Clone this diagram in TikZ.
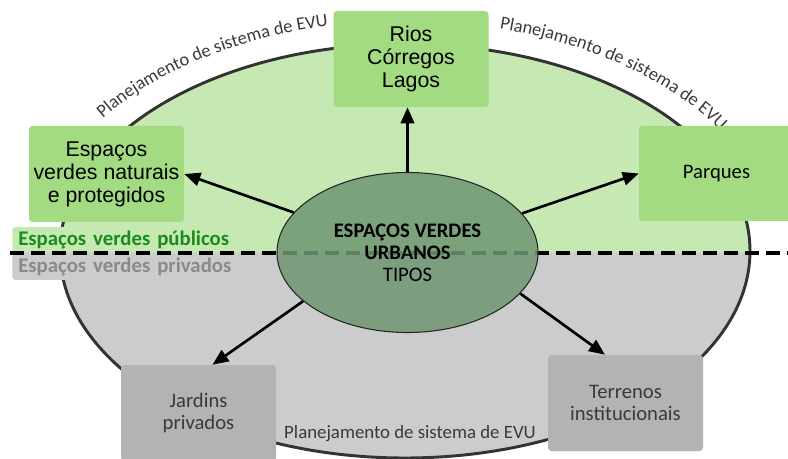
\documentclass[tikz,border=0pt]{standalone}
\usepackage{fontspec}
\setmainfont{Carlito}
\newfontfamily\arialf{Liberation Sans}
\usetikzlibrary{shapes.geometric,arrows.meta,decorations.text}
\definecolor{lgreen}{HTML}{C6E9B4}
\definecolor{boxgreen}{HTML}{A3DB82}
\definecolor{egreen}{HTML}{6F9672}
\definecolor{lgray}{HTML}{CCCCCC}
\definecolor{boxgray}{HTML}{B3B3B3}
\definecolor{pubgreen}{HTML}{1B8C1B}
\definecolor{privgray}{HTML}{8A8A8A}
\definecolor{outl}{HTML}{333333}
\definecolor{txtgray}{HTML}{3A3A3A}
\begin{document}
\begin{tikzpicture}[x=0.75pt,y=-0.75pt,
  gbox/.style={rectangle, rounded corners=2.5pt, fill=boxgreen, minimum width=116.25pt, minimum height=72pt, align=center, inner sep=0pt},
  graybox/.style={rectangle, rounded corners=2.5pt, fill=boxgray, minimum width=116.25pt, minimum height=72pt, align=center, inner sep=0pt, text=txtgray},
  afont/.style={font=\arialf\fontsize{16}{17.25}\selectfont},
  cfont/.style={font=\fontsize{15.5}{16.8}\selectfont},
  lab/.style={anchor=west, rounded corners=2.5pt, text width=158pt, inner xsep=4.5pt, inner ysep=0pt, align=left, font=\bfseries\fontsize{15.6}{16}\selectfont},
  arr/.style={draw=black, line width=2pt, -{Triangle[length=12pt,width=10pt]}},
  plan/.style={decorate, decoration={text along path, text align=center,
     text={|\fontsize{13.8}{14}\selectfont\color{txtgray}|Planejamento de sistema de EVU}}}
]
\useasboundingbox (0,0) rectangle (788,459);
% big ellipse halves
\begin{scope}
\clip (405,251) ellipse [x radius=258.75pt, y radius=155.25pt];
\fill[lgreen] (0,0) rectangle (788,253);
\fill[lgray] (0,253) rectangle (788,459);
\end{scope}
\draw[line width=2.2pt, outl] (405,251) ellipse [x radius=258.75pt, y radius=155.25pt];
% curved labels
\path[plan] (84.6,136) arc[start angle=150, end angle=98, x radius=277.5pt, y radius=172.5pt];
\path[plan] (469.2,24.5) arc[start angle=80, end angle=25, x radius=277.5pt, y radius=172.5pt];
\node[font=\fontsize{14.1}{14}\selectfont, text=txtgray, inner sep=0pt] (planb) at (410,434) {Planejamento de sistema de EVU};
% side labels
\node[lab, fill=lgreen, text=pubgreen, minimum height=19.5pt] (pub) at (12,240) {\mbox{Espaços verdes públicos}};
\node[lab, fill=lgray, text=privgray, minimum height=20.25pt] (priv) at (12,266.5) {\mbox{Espaços verdes privados}};
% dashed divider
\draw[line width=3pt, dash pattern=on 10.5pt off 5.25pt] (10,253) -- (788,253);
% central ellipse
\node[ellipse, fill=egreen, fill opacity=0.85, text opacity=1, draw=black!85, line width=0.8pt,
      minimum width=195.75pt, minimum height=120pt, inner sep=0pt, align=center,
      font=\fontsize{15.5}{16.5}\selectfont] (c) at (407.5,252.5)
      {\textbf{ESPAÇOS VERDES}\\\textbf{URBANOS}\\TIPOS};
% boxes
\node[gbox, afont] (rios) at (411,59) {Rios\\Córregos\\Lagos};
\node[gbox, afont] (esp) at (106.5,174) {Espaços\\verdes naturais\\e protegidos};
\node[gbox, cfont, minimum height=71.25pt] (parq) at (716.5,173.5) {Parques};
\node[graybox, cfont] (jard) at (198.5,413) {Jardins\\privados};
\node[graybox, cfont] (terr) at (625.5,403) {Terrenos\\institucionais};
% arrows
\draw[arr] (c.north) -- (c.north |- rios.south);
\draw[arr] (c) -- (esp.east);
\draw[arr] (c) -- (parq.west);
\draw[arr] (c.205) -- ([xshift=10.5pt]jard.north);
\draw[arr] (c.340) -- ([xshift=-15.4pt]terr.north);
\end{tikzpicture}
\end{document}
